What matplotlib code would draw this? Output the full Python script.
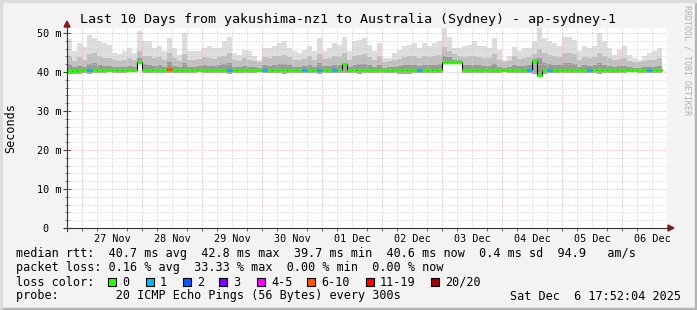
import numpy as np
import matplotlib.pyplot as plt
from matplotlib.lines import Line2D
from matplotlib.patches import Polygon, Rectangle
from datetime import datetime, timedelta

plt.rcParams['font.family'] = 'DejaVu Sans Mono'

W, H = 697, 310


def px(x, y):
    # pixel position (from top left) -> figure fraction
    return x / W, 1 - y / H


end_time = datetime(2025, 12, 6, 17, 52, 4)
start_time = end_time - timedelta(days=10)

day_labels = ['27 Nov', '28 Nov', '29 Nov', '30 Nov', '01 Dec',
              '02 Dec', '03 Dec', '04 Dec', '05 Dec', '06 Dec']
y_labels = ['0  ', '10 m', '20 m', '30 m', '40 m', '50 m']

# 2 hour bins, values in ms
rtt_median = [
    40.3, 40.3, 40.4, 40.5, 40.5, 40.5, 40.5, 40.5, 40.5, 40.5,
    40.5, 40.5, 40.5, 40.5, 42.6, 40.5, 40.5, 40.5, 40.5, 40.5,
    40.8, 40.5, 40.5, 40.5, 40.5, 40.5, 40.5, 40.5, 40.5, 40.5,
    40.5, 40.5, 40.5, 40.5, 40.5, 40.5, 40.5, 40.5, 40.5, 40.5,
    40.5, 40.5, 40.5, 40.5, 40.5, 40.5, 40.5, 40.5, 40.5, 40.5,
    40.5, 40.5, 40.5, 40.5, 40.5, 42.0, 40.5, 40.5, 40.5, 40.5,
    40.5, 40.5, 40.5, 40.5, 40.5, 40.5, 40.5, 40.5, 40.5, 40.5,
    40.5, 40.5, 40.5, 40.5, 40.5, 42.5, 42.5, 42.5, 42.5, 40.5,
    40.5, 40.5, 40.5, 40.5, 40.5, 40.5, 40.5, 40.5, 40.5, 40.5,
    40.5, 40.5, 40.5, 42.8, 39.2, 40.5, 40.5, 40.5, 40.5, 40.5,
    40.5, 40.5, 40.5, 40.5, 40.5, 40.5, 40.5, 40.5, 40.5, 40.5,
    40.5, 40.5, 40.5, 40.5, 40.5, 40.5, 40.5, 40.5, 40.5,
]
smoke_min = [
    39.6, 39.5, 39.4, 39.7, 39.6, 39.8, 39.8, 39.8, 39.9, 39.8,
    39.8, 39.8, 39.9, 39.9, 42.2, 39.8, 39.7, 39.8, 39.8, 39.8,
    39.7, 39.8, 39.8, 39.7, 39.8, 39.8, 39.9, 39.8, 39.7, 39.8,
    39.8, 39.7, 39.6, 39.8, 39.8, 39.7, 39.8, 39.8, 39.9, 39.7,
    39.8, 39.8, 39.7, 39.6, 39.8, 39.8, 39.8, 39.8, 39.7, 39.8,
    39.6, 39.7, 39.8, 39.7, 39.8, 39.7, 39.8, 39.7, 39.6, 39.7,
    39.7, 39.8, 39.7, 39.8, 39.8, 39.8, 39.6, 39.5, 39.6, 39.7,
    39.8, 39.7, 39.8, 39.8, 39.7, 42.1, 42.2, 42.2, 42.2, 39.7,
    39.8, 39.8, 39.7, 39.8, 39.8, 39.7, 39.8, 39.9, 39.8, 39.7,
    39.8, 39.7, 39.7, 39.6, 38.8, 39.6, 39.7, 39.8, 39.8, 39.7,
    39.7, 39.7, 39.8, 39.7, 39.8, 39.8, 39.6, 39.7, 39.8, 39.8,
    39.8, 39.8, 39.9, 39.9, 39.8, 39.8, 39.8, 39.8, 39.7,
]
smoke_dark = [
    41.8, 41.2, 41.6, 41.4, 42.0, 42.2, 41.8, 41.5, 41.6, 41.3,
    41.2, 41.4, 41.6, 41.4, 43.5, 42.0, 41.8, 41.6, 41.8, 41.4,
    42.5, 41.6, 41.2, 42.2, 41.4, 41.3, 41.5, 41.7, 41.6, 41.5,
    41.7, 42.0, 42.3, 41.4, 41.2, 41.6, 41.4, 41.2, 41.1, 41.7,
    41.6, 41.8, 42.0, 42.0, 41.7, 41.4, 41.3, 41.5, 41.8, 41.4,
    42.2, 41.5, 41.6, 41.9, 41.7, 42.3, 41.4, 41.8, 42.0, 42.0,
    41.7, 41.4, 41.8, 41.1, 41.2, 41.4, 41.5, 41.7, 41.8, 41.9,
    41.6, 41.9, 41.7, 41.8, 42.0, 44.0, 43.8, 43.2, 43.0, 41.8,
    41.8, 41.9, 41.7, 41.6, 41.5, 42.1, 41.4, 41.1, 41.2, 41.8,
    41.5, 41.6, 41.7, 43.3, 43.5, 42.4, 42.0, 41.9, 41.7, 42.2,
    42.3, 42.1, 41.4, 41.7, 41.6, 41.7, 42.3, 41.9, 41.6, 41.3,
    41.5, 41.6, 41.2, 41.1, 41.0, 41.2, 41.3, 41.4, 41.6,
]
smoke_mid = [
    44.0, 42.8, 43.8, 43.0, 44.5, 44.8, 44.0, 43.5, 43.6, 43.0,
    42.8, 43.2, 43.5, 43.0, 45.5, 44.2, 44.0, 43.5, 43.8, 43.0,
    45.0, 43.6, 42.8, 44.6, 43.2, 43.0, 43.4, 43.8, 43.6, 43.4,
    43.8, 44.2, 44.8, 43.0, 42.8, 43.5, 43.2, 42.8, 42.6, 43.8,
    43.6, 44.0, 44.2, 44.4, 43.8, 43.2, 43.0, 43.4, 44.0, 43.2,
    44.6, 43.4, 43.6, 44.2, 43.8, 44.8, 43.2, 44.0, 44.4, 44.5,
    43.8, 43.2, 44.0, 42.6, 42.8, 43.2, 43.4, 43.8, 44.0, 44.2,
    43.6, 44.2, 43.8, 44.0, 44.4, 46.5, 45.5, 44.5, 44.2, 43.8,
    44.0, 44.2, 43.8, 43.6, 43.5, 44.6, 43.2, 42.6, 42.8, 44.0,
    43.4, 43.6, 43.8, 44.6, 46.0, 45.0, 44.4, 44.2, 43.8, 44.8,
    45.0, 44.6, 43.2, 43.8, 43.6, 43.8, 45.0, 44.2, 43.6, 43.0,
    43.4, 43.6, 42.9, 42.6, 42.5, 42.8, 43.0, 43.2, 43.6,
]
smoke_max = [
    48.5, 45.3, 47.4, 46.5, 49.6, 48.7, 47.9, 47.4, 47.0, 44.9,
    44.5, 45.3, 46.2, 44.9, 50.5, 47.9, 47.9, 46.2, 46.6, 45.3,
    48.7, 46.2, 44.4, 50.0, 45.3, 45.3, 45.3, 46.2, 46.6, 46.2,
    46.2, 47.9, 49.1, 44.9, 44.4, 45.7, 45.3, 44.0, 43.2, 46.2,
    46.2, 46.6, 47.4, 47.9, 46.2, 45.3, 44.9, 45.7, 46.6, 45.3,
    48.7, 45.3, 46.2, 47.4, 47.0, 49.1, 45.3, 47.9, 48.3, 48.7,
    47.0, 45.3, 47.4, 43.6, 43.6, 44.9, 45.7, 46.6, 47.0, 47.4,
    46.2, 47.4, 46.6, 47.4, 47.9, 51.2, 49.1, 46.2, 46.2, 46.6,
    47.0, 47.9, 46.6, 46.6, 46.2, 48.7, 45.7, 43.2, 44.0, 46.5,
    45.3, 46.2, 46.2, 47.9, 51.2, 48.7, 47.9, 47.4, 46.6, 49.1,
    49.1, 48.3, 45.3, 46.6, 46.2, 46.6, 50.0, 47.9, 46.2, 44.4,
    45.7, 46.6, 44.4, 43.6, 43.2, 44.0, 44.9, 45.3, 46.2,
]
# bins where pings were lost, and how many of 20
loss_bins = [4, 20, 32, 39, 47, 50, 53, 70, 92, 96, 104, 116]
loss_count = [1, 7, 1, 1, 1, 1, 1, 1, 1, 1, 1, 1]

loss_labels = ['0', '1', '2', '3', '4-5', '6-10', '11-19', '20/20']
loss_colors = ['#26ff00', '#00b8ff', '#0059ff', '#7e00ff',
               '#ff00ff', '#ff5500', '#ff0000', '#a00000']
loss_limits = [0, 1, 2, 3, 5, 10, 19, 20]

edges = np.arange(len(rtt_median) + 1) * 2.0


def steps(vals):
    return np.repeat(edges, 2)[1:-1], np.repeat(np.asarray(vals), 2)


fig = plt.figure(figsize=(W / 100, H / 100), dpi=100, facecolor='#f3f3f3')
ax = fig.add_axes([67 / W, 1 - 228 / H, 600 / W, 200 / H])
ax.set_facecolor('white')
ax.set_xlim(0, 240)
ax.set_ylim(0, 200 / 3.9)

# smoke
bands = [(smoke_mid, smoke_max, '#dddddd'),
         (smoke_dark, smoke_mid, '#c0c0c0'),
         (rtt_median, smoke_dark, '#9a9a9a'),
         (smoke_min, rtt_median, '#a8a8a8')]
for lo, hi, c in bands:
    x, ylo = steps(lo)
    _, yhi = steps(hi)
    ax.fill_between(x, ylo, yhi, color=c, lw=0, zorder=1)

# grid
hours_to_midnight = []
t = datetime(2025, 11, 26, 18, 0)
six_h = []
while t < end_time:
    h = (t - start_time).total_seconds() / 3600
    six_h.append(h)
    if t.hour == 0:
        hours_to_midnight.append(h)
    t += timedelta(hours=6)
for h in six_h:
    if h in hours_to_midnight:
        continue
    ax.axvline(h, color='#cccccc', lw=0.72, ls=(0, (1, 2)), zorder=2)
for h in hours_to_midnight:
    ax.axvline(h, color='#eca0a0', lw=0.72, ls=(0, (1, 2)), zorder=2)
for v in range(2, 52, 2):
    if v % 10 == 0:
        ax.axhline(v, color='#eca0a0', lw=0.72, ls=(0, (1, 2)), zorder=2)
    else:
        ax.axhline(v, color='#cccccc', lw=0.72, ls=(0, (1, 2)), zorder=2)

# median line, coloured by loss
x, y = steps(rtt_median)
ax.plot(x, y, color='black', lw=0.8, zorder=3)
colors = [loss_colors[0]] * len(rtt_median)
for b, n in zip(loss_bins, loss_count):
    k = next(i for i, lim in enumerate(loss_limits) if n <= lim)
    colors[b] = loss_colors[k]
ax.hlines(rtt_median, edges[:-1], edges[1:], colors=colors, lw=2.4, zorder=4)

# ticks
noons = [(datetime(2025, 11, 27, 12) + timedelta(days=i) - start_time).total_seconds() / 3600
         for i in range(len(day_labels))]
ax.set_xticks(noons, day_labels, fontsize=7.3)
ax.set_xticks(six_h, minor=True)
ax.tick_params(axis='x', which='major', length=0, pad=4)
ax.tick_params(axis='x', which='minor', length=2, direction='out', color='#555555')
ax.set_yticks([0, 10, 20, 30, 40, 50], y_labels, fontsize=7.3)
ax.set_yticks(range(0, 52, 2), minor=True)
ax.tick_params(axis='y', which='major', length=6, direction='inout', pad=1, color='#444444')
ax.tick_params(axis='y', which='minor', length=3, direction='inout', color='#666666')
for s in ax.spines.values():
    s.set_visible(False)

# axis lines and arrows
fig.add_artist(Line2D(*zip(px(67, 231), px(67, 24)), color='#333333', lw=0.8))
fig.add_artist(Line2D(*zip(px(64, 228), px(670, 228)), color='#333333', lw=0.8))
fig.add_artist(Polygon([px(64, 27), px(70, 27), px(67, 21)], closed=True,
                       color='#8b1a1a', transform=fig.transFigure))
fig.add_artist(Polygon([px(668, 225), px(668, 231), px(674, 228)], closed=True,
                       color='#8b1a1a', transform=fig.transFigure))

# frame
fig.add_artist(Rectangle(px(0, 310), 1, 2 / H, color='#b4b4b4', transform=fig.transFigure))
fig.add_artist(Rectangle(px(695, 310), 2 / W, 1, color='#b4b4b4', transform=fig.transFigure))
fig.add_artist(Rectangle(px(0, 310), 2 / W, 1, color='#dcdcdc', transform=fig.transFigure))
fig.add_artist(Rectangle(px(0, 2), 1, 2 / H, color='#dcdcdc', transform=fig.transFigure))

# texts
fig.text(*px(348, 19), 'Last 10 Days from yakushima-nz1 to Australia (Sydney) - ap-sydney-1',
         ha='center', va='center', fontsize=9.6)
fig.text(*px(11, 128), 'Seconds', rotation=90, ha='center', va='center', fontsize=8.5)
fig.text(*px(687, 60), 'RRDTOOL / TOBI OETIKER', rotation=270, ha='center', va='center',
         fontsize=6, color='#b0b0b0')

fs = 8.5
fig.text(*px(16, 254), 'median rtt:  40.7 ms avg  42.8 ms max  39.7 ms min  40.6 ms now  0.4 ms sd  94.9   am/s',
         va='center', fontsize=fs)
fig.text(*px(16, 268), 'packet loss: 0.16 % avg  33.33 % max  0.00 % min  0.00 % now',
         va='center', fontsize=fs)
fig.text(*px(16, 282), 'loss color:', va='center', fontsize=fs)
sq_x = [108, 146, 183, 219, 257, 307, 366, 431]
for xs, lab, c in zip(sq_x, loss_labels, loss_colors):
    fig.add_artist(Rectangle(px(xs, 286), 8 / W, 8 / H, facecolor=c, edgecolor='black',
                             lw=0.8, transform=fig.transFigure))
    fig.text(*px(xs + 14, 282), lab, va='center', fontsize=fs)
fig.text(*px(16, 296), 'probe:        20 ICMP Echo Pings (56 Bytes) every 300s',
         va='center', fontsize=fs)
fig.text(*px(681, 296), 'Sat Dec  6 17:52:04 2025', ha='right', va='center', fontsize=fs)

fig.savefig('out.png', dpi=100, facecolor=fig.get_facecolor())
